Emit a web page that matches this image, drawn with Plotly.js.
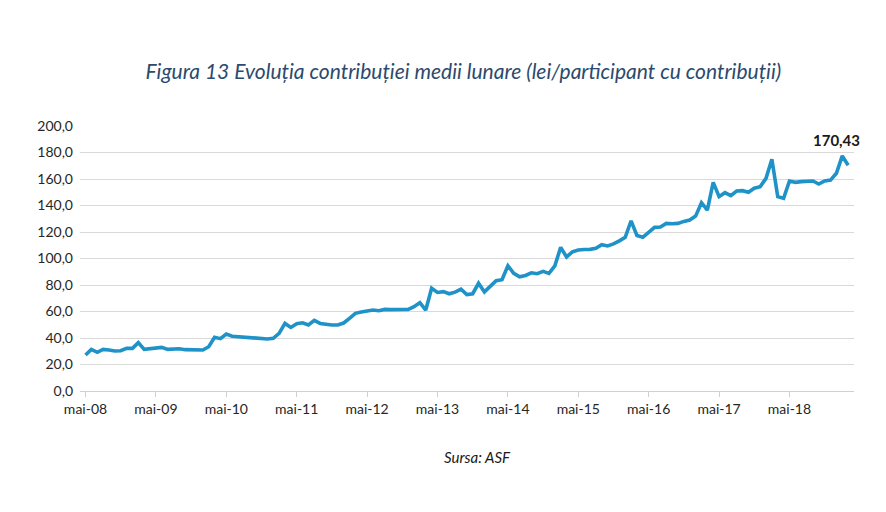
<!DOCTYPE html>
<html>
<head>
<meta charset="utf-8">
<script src="https://cdn.plot.ly/plotly-3.0.1.min.js"></script>
<style>html,body{margin:0;padding:0;background:#fff;}#chart{width:886px;height:512px;}</style>
</head>
<body>
<div id="chart"></div>
<script>
// Monthly average contribution (lei / participant with contributions), May 2008 onward
const monthNames = ["ian","feb","mar","apr","mai","iun","iul","aug","sep","oct","noi","dec"];
const startYear = 2008, startMonth = 4; // May 2008

const values = [
  27.2, 31.4, 29.2, 31.4, 30.9, 30.2, 30.4, 32.2, 32.2, 36.5,
  31.4, 31.9, 32.7, 32.9, 31.4, 31.7, 31.9, 31.2, 31.2, 31.2,
  30.9, 33.4, 40.5, 39.5, 43.0, 41.3, 41.0, 41.0, 40.3, 39.8,
  39.5, 39.3, 39.8, 43.5, 51.0, 48.0, 50.8, 51.5, 49.8, 53.3,
  51.0, 50.2, 49.8, 49.8, 51.3, 54.8, 58.6, 59.6, 60.4, 61.1,
  60.6, 61.6, 61.4, 61.4, 61.4, 61.6, 63.6, 66.7, 61.1, 77.5,
  74.4, 75.0, 73.4, 74.6, 76.8, 72.8, 73.4, 81.3, 74.8, 78.8,
  83.2, 84.0, 94.5, 88.8, 86.2, 87.2, 89.2, 88.5, 90.3, 88.8,
  94.5, 108.4, 101.2, 105.0, 106.4, 106.8, 106.9, 107.7, 110.4, 109.5,
  111.0, 113.3, 116.0, 128.4, 117.4, 116.0, 119.8, 123.5, 123.8, 126.5,
  126.2, 126.5, 128.0, 129.0, 132.0, 142.1, 136.6, 157.5, 146.7, 149.7,
  147.4, 150.9, 151.2, 150.0, 153.0, 154.2, 160.5, 174.9, 146.7, 145.4,
  158.5, 157.5, 158.0, 158.5, 158.5, 156.2, 158.5, 159.2, 164.3, 177.4,
  170.43
];

const categories = values.map((v, i) => {
  const m = (startMonth + i) % 12;
  const y = startYear + Math.floor((startMonth + i) / 12);
  return monthNames[m] + "-" + String(y).slice(2);
});

const tickLabels = ["mai-08","mai-09","mai-10","mai-11","mai-12","mai-13","mai-14","mai-15","mai-16","mai-17","mai-18"];
const yTicks = [0,20,40,60,80,100,120,140,160,180,200];

const lastLabel = "170,43";
const titleText = "Figura 13 Evoluția contribuției medii lunare (lei/participant cu contribuții)";
const sourceText = "Sursa: ASF";

const FONT = "Lato, 'Open Sans', sans-serif";

const trace = {
  x: categories,
  y: values,
  type: "scatter",
  mode: "lines",
  line: {color: "#1f93c7", width: 3.6},
  hoverinfo: "x+y"
};

const layout = {
  width: 886, height: 512,
  margin: {l: 80, r: 32, t: 126, b: 121},
  paper_bgcolor: "#ffffff",
  plot_bgcolor: "#ffffff",
  separators: ",.",
  showlegend: false,
  font: {family: FONT, size: 14, color: "#262626"},
  title: {
    text: "<i>" + titleText + "</i>",
    font: {family: FONT, size: 21, color: "#2b4a6e"},
    x: 0.523, xanchor: "center",
    y: 0.861, yanchor: "middle"
  },
  xaxis: {
    type: "category",
    range: [-0.94, 131.0],
    tickmode: "array",
    tickvals: tickLabels,
    ticktext: tickLabels,
    ticks: "outside",
    ticklen: 5,
    tickcolor: "#d0d0d0",
    showline: true,
    linecolor: "#d0d0d0",
    linewidth: 1,
    showgrid: false,
    zeroline: false,
    tickfont: {family: FONT, size: 14, color: "#262626"}
  },
  yaxis: {
    range: [0, 200],
    tickmode: "array",
    tickvals: yTicks,
    tickformat: ".1f",
    showgrid: true,
    gridcolor: "#d9d9d9",
    gridwidth: 1,
    zeroline: false,
    showline: false,
    ticks: "",
    ticklabelstandoff: 6,
    tickfont: {family: FONT, size: 14, color: "#262626"}
  },
  annotations: [
    {
      x: categories[categories.length - 1],
      y: values[values.length - 1],
      xref: "x", yref: "y",
      text: "<b>" + lastLabel + "</b>",
      showarrow: false,
      xanchor: "center", yanchor: "bottom",
      xshift: -12, yshift: 14,
      font: {family: FONT, size: 15, color: "#1a1a1a"}
    },
    {
      x: 0.5135, y: -0.25,
      xref: "paper", yref: "paper",
      text: "<i>" + sourceText + "</i>",
      showarrow: false,
      xanchor: "center", yanchor: "middle",
      font: {family: FONT, size: 15, color: "#1a1a1a"}
    }
  ]
};

Plotly.newPlot("chart", [trace], layout, {displayModeBar: false, staticPlot: true});
</script>
</body>
</html>
